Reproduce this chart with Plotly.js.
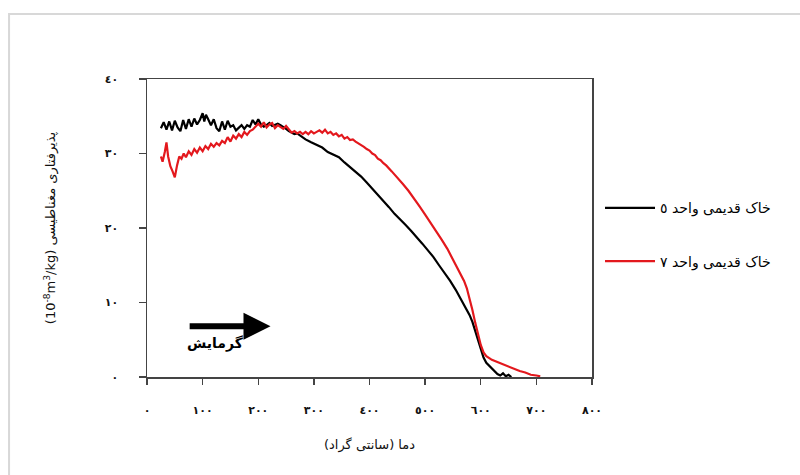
<!DOCTYPE html>
<html>
<head>
<meta charset="utf-8">
<script src="https://cdn.plot.ly/plotly-3.0.1.min.js"></script>
<style>html,body{margin:0;padding:0;background:#fff;}#chart{width:800px;height:475px;}</style>
</head>
<body>
<div id="chart"></div>
<script>
// Temperature (°C) and susceptibility (10^-8 m3/kg)
const blackT = [25,30,35,40,45,50,55,60,65,70,75,80,85,90,95,100,103,106,110,115,120,125,130,135,140,145,150,155,160,165,170,175,180,185,190,195,200,205,210,215,220,225,230,235,240,245,250,255,260,265,270,275,285,295,305,315,325,335,345,355,365,375,385,395,405,415,425,435,445,455,465,475,485,495,505,515,525,535,545,555,565,575,580,585,590,595,600,605,610,615,620,625,630,635,640,645,650,655];
const blackY = [33.4,34.2,33.2,34.3,33.1,34.4,33.5,33.0,34.5,33.3,34.6,33.6,34.7,33.9,34.5,35.4,34.3,35.2,34.6,33.8,34.6,33.4,33.0,34.3,33.2,34.4,33.6,33.8,33.1,33.5,33.8,33.3,33.8,33.6,34.5,33.9,34.6,33.9,33.6,33.8,34.1,33.7,33.9,34.0,33.8,33.6,33.3,33.0,32.8,32.6,32.7,32.4,31.9,31.5,31.1,30.8,30.2,29.9,29.5,28.8,28.2,27.6,26.9,26.1,25.3,24.5,23.6,22.8,21.9,21.2,20.4,19.6,18.8,17.9,17.0,16.1,15.0,14.0,12.9,11.7,10.4,9.1,8.3,7.4,6.2,4.8,3.5,2.6,1.9,1.5,1.1,0.7,0.4,0.2,0.5,0.1,0.3,0.0];
const redT = [25,28,32,35,38,42,46,50,54,58,62,66,70,75,80,85,90,95,100,105,110,115,120,125,130,135,140,145,150,155,160,165,170,175,180,185,190,195,200,205,210,215,220,225,230,235,240,245,250,255,260,265,270,275,280,285,290,295,300,305,310,315,320,325,330,335,340,345,350,355,360,365,370,375,380,385,390,395,400,405,410,415,420,425,430,440,450,460,470,480,490,500,510,520,530,540,550,560,570,575,580,585,590,595,600,605,610,620,630,640,650,660,670,680,690,700,707];
const redY = [29.6,28.9,30.2,31.5,29.6,28.3,27.6,26.8,28.4,29.6,29.3,30.0,29.5,30.3,29.8,30.6,30.1,30.8,30.3,31.0,30.6,31.3,30.9,31.4,31.1,31.7,31.4,32.2,31.6,32.4,32.0,32.6,32.2,32.9,32.5,33.0,33.2,33.6,34.0,33.6,34.2,33.5,33.9,34.1,33.4,33.8,33.6,33.3,33.7,33.2,32.8,33.0,32.7,32.9,32.6,32.9,32.6,33.0,32.7,32.9,33.1,32.8,33.2,32.7,32.9,32.5,32.7,32.3,32.5,32.0,32.2,31.8,31.9,31.6,31.4,31.1,30.9,30.6,30.4,30.0,29.8,29.3,29.1,28.7,28.4,27.6,26.8,25.9,25.0,24.0,22.9,21.8,20.7,19.6,18.4,17.2,15.8,14.5,12.9,11.9,10.6,9.0,7.3,5.6,4.3,3.3,2.8,2.3,2.0,1.7,1.3,1.1,0.8,0.6,0.3,0.2,0.1];
const xTickVals = [0,100,200,300,400,500,600,700,800];
const xTickText = ['٠','١٠٠','٢٠٠','٣٠٠','٤٠٠','٥٠٠','٦٠٠','٧٠٠','٨٠٠'];
const yTickVals = [0,10,20,30,40];
const yTickText = ['٠','١٠','٢٠','٣٠','٤٠'];
const seriesNames = ['خاک قدیمی واحد ٥','خاک قدیمی واحد ٧'];
const xTitle = 'دما (سانتی گراد)';
const yTitle = '(10<sup>-8</sup>m<sup>3</sup>/kg) پذیرفتاری مغناطیسی';
const arrowLabel = '<b>گرمایش</b>';

const font = 'DejaVu Sans, sans-serif';
const traces = [
  {x: blackT, y: blackY, name: seriesNames[0], mode: 'lines', legendgroup: 'a',
   line: {color: '#000000', width: 2.2}},
  {x: redT, y: redY, name: seriesNames[1], mode: 'lines', legendgroup: 'b',
   line: {color: '#e3181d', width: 2.2}}
];
const layout = {
  width: 800, height: 475,
  paper_bgcolor: '#ffffff', plot_bgcolor: '#ffffff',
  margin: {l: 147, r: 208, t: 79, b: 98, autoexpand: false},
  showlegend: true,
  legend: {x: 1.018, xanchor: 'left', y: 0.62, yanchor: 'top', traceorder: 'grouped',
    tracegroupgap: 32, itemwidth: 50, font: {family: font, size: 14, color: '#000'}, bgcolor: 'rgba(0,0,0,0)'},
  xaxis: {range: [0, 800], tickvals: xTickVals, ticktext: xTickText, showgrid: false, zeroline: false,
    showline: true, linecolor: '#444', linewidth: 1.5, mirror: true,
    ticks: 'outside', ticklen: 6, tickcolor: '#444', tickwidth: 1.3, ticklabelstandoff: 16,
    tickfont: {family: font, size: 11, color: '#111', weight: 'bold'},
    title: {text: xTitle, font: {family: font, size: 13, color: '#111'}, standoff: 24}},
  yaxis: {range: [0, 40], tickvals: yTickVals, ticktext: yTickText, showgrid: false, zeroline: false,
    showline: true, linecolor: '#444', linewidth: 1.5, mirror: true,
    ticks: 'outside', ticklen: 7, tickcolor: '#444', tickwidth: 1.3, ticklabelstandoff: 18,
    tickfont: {family: font, size: 11, color: '#111', weight: 'bold'},
    title: {text: yTitle, font: {family: font, size: 13, color: '#111'}, standoff: 46}},
  shapes: [
    {type: 'rect', xref: 'paper', yref: 'paper', x0: -0.31, x1: 1.5, y0: -0.4, y1: 1.218,
     line: {color: '#d8d8d8', width: 2}, layer: 'below'}
  ],
  annotations: [
    {x: 222, y: 6.8, ax: 74, ay: 6.8, xref: 'x', yref: 'y', axref: 'x', ayref: 'y',
     showarrow: true, arrowhead: 2, arrowsize: 0.9, arrowwidth: 6, arrowcolor: '#000', text: ''},
    {x: 123, y: 4.5, xref: 'x', yref: 'y', text: arrowLabel, showarrow: false,
     font: {family: font, size: 14, color: '#000'}}
  ]
};
Plotly.newPlot('chart', traces, layout, {displayModeBar: false, staticPlot: true});
</script>
</body>
</html>
